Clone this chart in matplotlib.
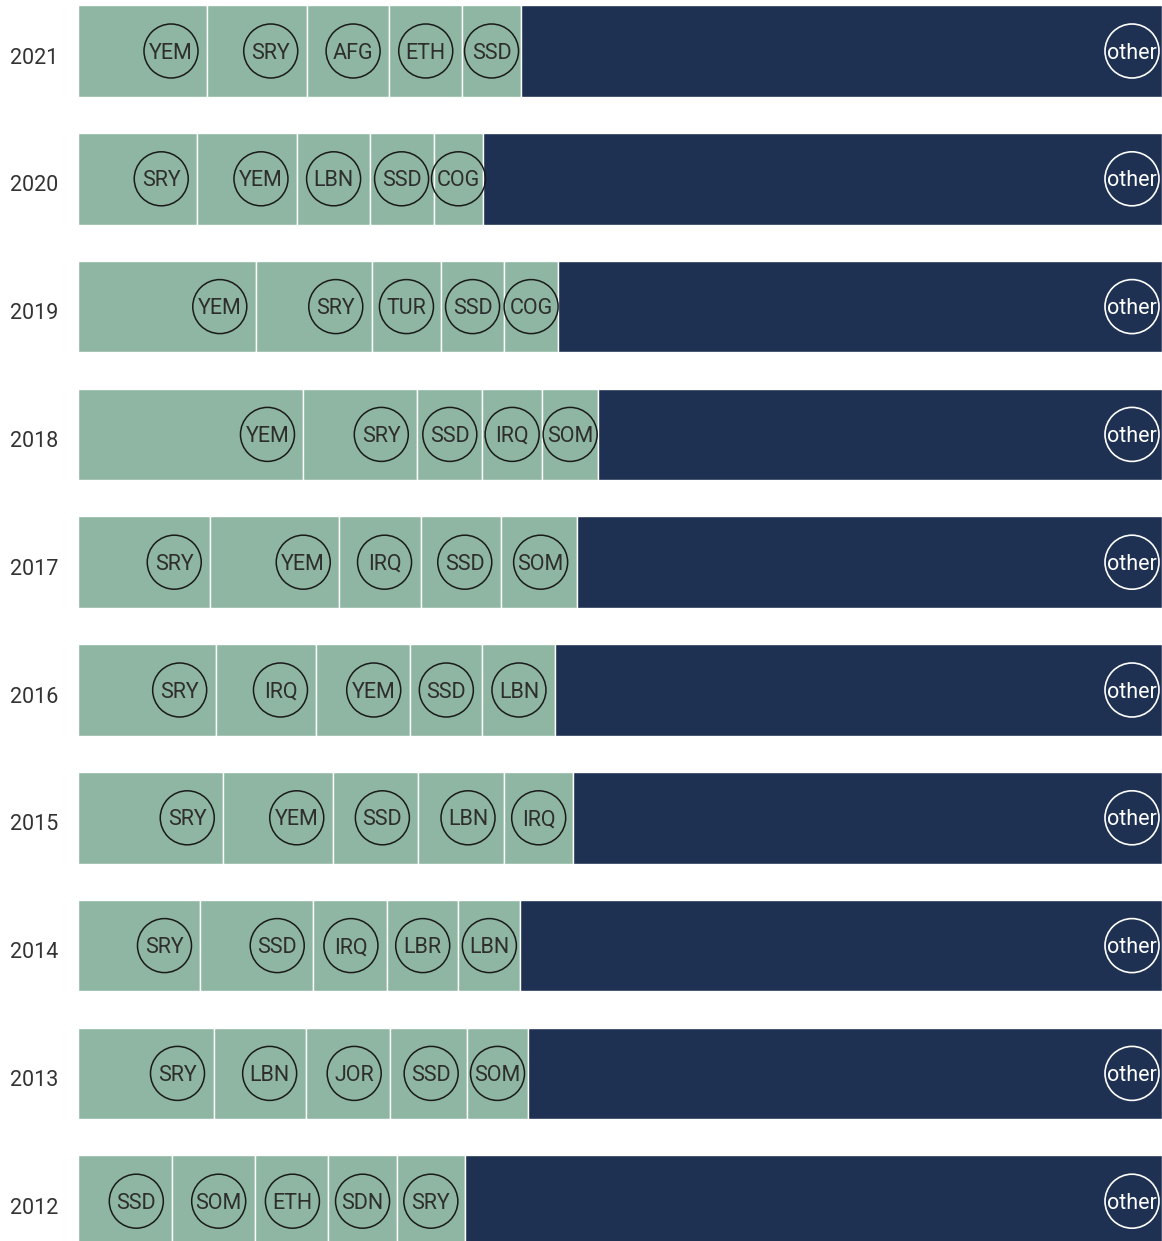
import matplotlib
matplotlib.use("Agg")
import matplotlib.pyplot as plt
import numpy as np

plt.rcParams['font.family'] = ['Roboto', 'DejaVu Sans']

# years, top to bottom
years = ['2021', '2020', '2019', '2018', '2017', '2016', '2015', '2014', '2013', '2012']

# five largest countries per year (share of total, %)
countries = [
    ['YEM', 'SRY', 'AFG', 'ETH', 'SSD'],
    ['SRY', 'YEM', 'LBN', 'SSD', 'COG'],
    ['YEM', 'SRY', 'TUR', 'SSD', 'COG'],
    ['YEM', 'SRY', 'SSD', 'IRQ', 'SOM'],
    ['SRY', 'YEM', 'IRQ', 'SSD', 'SOM'],
    ['SRY', 'IRQ', 'YEM', 'SSD', 'LBN'],
    ['SRY', 'YEM', 'SSD', 'LBN', 'IRQ'],
    ['SRY', 'SSD', 'IRQ', 'LBR', 'LBN'],
    ['SRY', 'LBN', 'JOR', 'SSD', 'SOM'],
    ['SSD', 'SOM', 'ETH', 'SDN', 'SRY'],
]
shares = [
    [11.9, 9.2, 7.6, 6.7, 5.5],
    [11.0, 9.2, 6.7, 5.9, 4.6],
    [16.4, 10.7, 6.4, 5.8, 5.0],
    [20.8, 10.5, 6.0, 5.5, 5.2],
    [12.2, 11.9, 7.5, 7.4, 7.0],
    [12.7, 9.3, 8.6, 6.7, 6.7],
    [13.4, 10.1, 7.9, 7.9, 6.4],
    [11.3, 10.4, 6.8, 6.6, 5.7],
    [12.5, 8.5, 7.8, 7.1, 5.6],
    [8.7, 7.6, 6.8, 6.3, 6.3],
]
other_label = 'other'

green = '#8eb6a2'
navy = '#1e3152'

W, H = 1162, 1241
fig = plt.figure(figsize=(W / 100, H / 100), dpi=100)
ax = fig.add_axes([78 / W, 0, 1084 / W, 1])

pitch = 127.8
ax.set_xlim(0, 100)
ax.set_ylim((H - 51) / pitch, -51 / pitch)
ax.axis('off')

bar_h = 91.5 / pitch
px = 100 / 1084  # data units per pixel in x
circle_s = (54 * 0.72) ** 2
fs = 15.5
cap = 7.6 / pitch  # half cap height, so text sits centred in the circle

for i, (yr, names, vals) in enumerate(zip(years, countries, shares)):
    vals = np.array(vals)
    left = 0.0
    for name, v in zip(names, vals):
        ax.barh(i, v, left=left, height=bar_h, color=green,
                edgecolor='white', linewidth=1)
        cx = left + v - min(36 * px, v / 2)
        ax.scatter(cx, i, s=circle_s, facecolor='none', edgecolor='#1a1a1a',
                   linewidth=1.1, zorder=3)
        ax.text(cx, i + cap, name, ha='center', va='baseline', fontsize=fs,
                color='#2e2e2e', zorder=4)
        left += v
    rest = 100 - left
    ax.barh(i, rest, left=left, height=bar_h, color=navy,
            edgecolor='white', linewidth=1)
    cx = 100 - 30 * px
    ax.scatter(cx, i, s=circle_s, facecolor='none', edgecolor='white',
               linewidth=1.2, zorder=3)
    ax.text(cx, i + cap, other_label, ha='center', va='baseline', fontsize=fs,
            color='white', zorder=4)
    ax.text(-44 * px, i + cap + 5 / pitch, yr, ha='center', va='baseline',
            fontsize=fs, color='#333333', clip_on=False)

fig.savefig('out.png', dpi=100)
